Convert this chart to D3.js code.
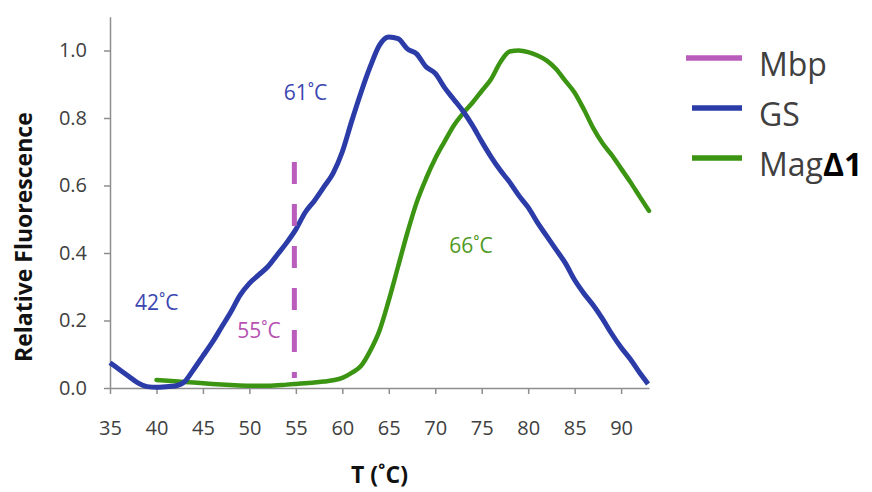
<!DOCTYPE html>
<html>
<head>
<meta charset="utf-8">
<script src="https://cdn.jsdelivr.net/npm/d3@7"></script>
<style>
  body { margin: 0; background: #fff; }
  svg { font-family: "Open Sans", sans-serif; }
</style>
</head>
<body>
<div id="chartDiv"></div>
<script>
// data
var gsTemp = [35,36,37,38,39,40,41,42,43,44,45,46,47,48,49,50,51,52,53,54,55,56,57,58,59,60,61,62,63,64,65,66,67,68,69,70,71,72,73,74,75,76,77,78,79,80,81,82,83,84,85,86,87,88,89,90,91,92,92.9];
var gsValue = [0.075,0.055,0.035,0.015,0.004,0.002,0.004,0.006,0.018,0.055,0.095,0.135,0.18,0.225,0.275,0.31,0.335,0.36,0.395,0.43,0.47,0.52,0.555,0.595,0.636,0.70,0.79,0.875,0.952,1.016,1.04,1.035,1.005,0.99,0.952,0.932,0.89,0.855,0.82,0.778,0.73,0.685,0.645,0.61,0.57,0.535,0.49,0.45,0.41,0.37,0.32,0.28,0.245,0.205,0.16,0.12,0.085,0.045,0.012];

var magTemp = [40,42,44,46,48,50,52,54,55,56,57,58,59,60,61,62,63,64,65,66,67,68,69,70,71,72,73,74,75,76,77,78,79,80,81,82,83,84,85,86,87,88,89,90,91,92,93];
var magValue = [0.024,0.02,0.016,0.012,0.009,0.007,0.007,0.01,0.012,0.014,0.016,0.019,0.023,0.03,0.045,0.065,0.11,0.17,0.26,0.36,0.46,0.55,0.62,0.68,0.73,0.778,0.814,0.845,0.88,0.915,0.965,0.997,1.0,0.995,0.985,0.97,0.945,0.91,0.875,0.825,0.77,0.725,0.69,0.65,0.61,0.567,0.525];

var mbpTemp = [55, 55];
var mbpValue = [0.67, 0.03];

var xTicks = [35,40,45,50,55,60,65,70,75,80,85,90];
var yTicks = [0.0,0.2,0.4,0.6,0.8,1.0];

var legendNames = ["Mbp", "GS", "Mag"];
var annoText = ["61˚C", "42˚C", "55˚C", "66˚C"];
var annoTemp = [53.7, 37.7, 48.7, 71.5];
var annoValue = [0.854, 0.231, 0.148, 0.401];

var colors = {Mbp: "#b95cbb", GS: "#2b3ca8", Mag: "#3c9512"};
var annoColors = ["#3b46b0", "#3b46b0", "#b552b2", "#4f9a22"];

var outerWidth = 872, outerHeight = 492;

var svg = d3.select("#chartDiv")
    .append("svg")
    .attr("width", outerWidth)
    .attr("height", outerHeight);

var x = d3.scaleLinear()
    .domain([35, 93])
    .range([110, 649]);

var y = d3.scaleLinear()
    .domain([0, 1.1])
    .range([388, 16.75]);

var xAxis = d3.axisBottom(x)
    .tickValues(xTicks)
    .tickSize(6)
    .tickSizeOuter(0)
    .tickPadding(27)
    .tickFormat(d3.format("d"));

var yAxis = d3.axisLeft(y)
    .tickValues(yTicks)
    .tickSize(6)
    .tickSizeOuter(0)
    .tickPadding(17)
    .tickFormat(d3.format(".1f"));

var yAxisGroup = svg.append("g")
    .attr("transform", "translate(" + x.range()[0] + ",0)")
    .call(yAxis);

var xAxisGroup = svg.append("g")
    .attr("transform", "translate(0," + y(0) + ")")
    .call(xAxis);

[xAxisGroup, yAxisGroup].forEach(function(g) {
    g.select(".domain").attr("stroke", "#8e8e8e").attr("stroke-width", 1.5);
    g.selectAll(".tick line").attr("stroke", "#8e8e8e").attr("stroke-width", 1.5);
    g.selectAll(".tick text")
        .attr("fill", "#404040")
        .style("font-size", "20px")
        .style("font-family", "'Open Sans', sans-serif");
});

// axis titles
svg.append("text")
    .attr("transform", "translate(32," + y(0.447) + ") rotate(-90)")
    .attr("text-anchor", "middle")
    .style("font-size", "23px")
    .style("font-weight", "bold")
    .attr("fill", "#111")
    .text("Relative Fluorescence");

svg.append("text")
    .attr("x", x(64))
    .attr("y", 483)
    .attr("text-anchor", "middle")
    .style("font-size", "23px")
    .style("font-weight", "bold")
    .attr("fill", "#111")
    .text("T (˚C)");

var line = d3.line()
    .x(function(d) { return x(d[0]); })
    .y(function(d) { return y(d[1]); })
    .curve(d3.curveMonotoneX);

var gsData = d3.zip(gsTemp, gsValue);
var magData = d3.zip(magTemp, magValue);
var mbpData = d3.zip(mbpTemp, mbpValue);

svg.append("path")
    .attr("d", line(magData))
    .style("fill", "none")
    .style("stroke", colors.Mag)
    .style("stroke-width", 4.5)
    .style("stroke-linecap", "round");

svg.append("path")
    .attr("d", line(gsData))
    .style("fill", "none")
    .style("stroke", colors.GS)
    .style("stroke-width", 5)
    .style("stroke-linejoin", "round");

svg.append("path")
    .attr("d", d3.line().x(function(d) { return x(d[0]) - 1.5; }).y(function(d) { return y(d[1]); })(mbpData))
    .style("fill", "none")
    .style("stroke", colors.Mbp)
    .style("stroke-width", 5)
    .style("stroke-dasharray", "22,20");

// annotations
svg.selectAll(".anno")
    .data(annoText)
    .enter().append("text")
    .attr("class", "anno")
    .attr("x", function(d, i) { return x(annoTemp[i]); })
    .attr("y", function(d, i) { return y(annoValue[i]); })
    .attr("fill", function(d, i) { return annoColors[i]; })
    .style("font-size", "21px")
    .text(function(d) { return d; });

// legend
var legend = svg.append("g")
    .attr("transform", "translate(686,58)");

legendNames.forEach(function(name, i) {
    legend.append("line")
        .attr("x1", name == "Mbp" ? 0 : 6)
        .attr("x2", 56)
        .attr("y1", i * 50)
        .attr("y2", i * 50)
        .style("stroke", colors[name])
        .style("stroke-width", 5.5);

    var t = legend.append("text")
        .attr("x", 73)
        .attr("y", i * 50 + 18)
        .attr("fill", "#404040")
        .style("font-size", "32px")
        .text(name);

    if (name == "Mag") {
        t.append("tspan")
            .attr("fill", "#000")
            .style("font-weight", "bold")
            .text("Δ1");
    }
});
</script>
</body>
</html>
